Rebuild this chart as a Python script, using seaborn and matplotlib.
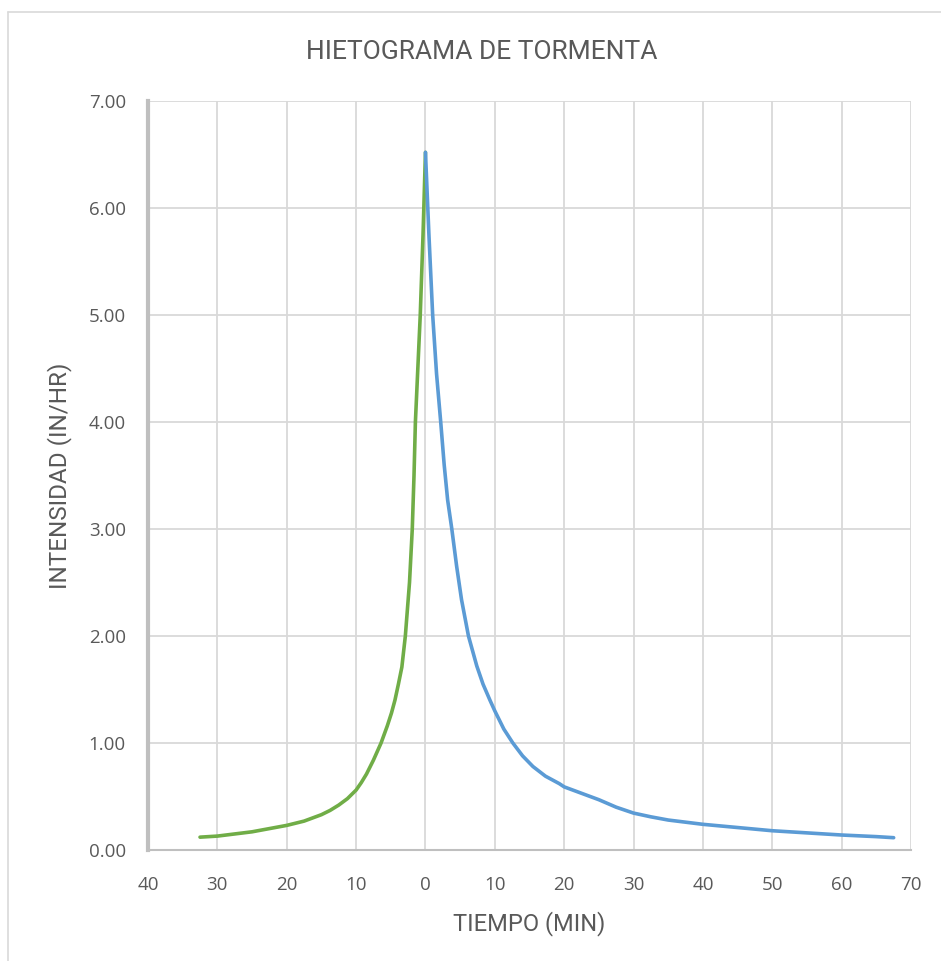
import matplotlib
matplotlib.use("Agg")
import matplotlib.pyplot as plt
import matplotlib.lines as mlines
from matplotlib.ticker import FixedLocator, FuncFormatter
import seaborn as sns
import pandas as pd

# Storm hyetograph: rising limb (before peak) and falling limb (after peak)
antes_tiempo = [-32.5, -30, -27.5, -25, -22.5, -20, -17.5, -15, -13.75, -12.5,
                -11.25, -10, -9.25, -8.5, -7.5, -6.4, -5.5, -4.9, -4.4, -3.9,
                -3.4, -2.9, -2.6, -2.3, -1.9, -1.65, -1.45, -1.1, -0.75, -0.35, 0]
antes_intensidad = [0.12, 0.13, 0.15, 0.17, 0.20, 0.23, 0.27, 0.33, 0.37, 0.42,
                    0.48, 0.56, 0.63, 0.71, 0.84, 1.00, 1.16, 1.28, 1.40, 1.55,
                    1.71, 2.00, 2.25, 2.50, 3.00, 3.50, 4.00, 4.50, 5.00, 5.75, 6.52]

despues_tiempo = [0, 0.5, 1.04, 1.6, 2.2, 2.7, 3.2, 3.8, 4.5, 5.2, 6.2, 7.4, 8.3,
                  9.3, 10, 11.3, 12.6, 14, 15.5, 17.3, 19.3, 20, 22.5, 25, 27.5,
                  30, 32.5, 35, 40, 45, 50, 55, 60, 65, 67.5]
despues_intensidad = [6.52, 5.75, 5.00, 4.45, 4.00, 3.60, 3.27, 3.00, 2.65, 2.34,
                      2.00, 1.72, 1.55, 1.40, 1.30, 1.13, 1.00, 0.88, 0.78, 0.69,
                      0.62, 0.59, 0.53, 0.47, 0.40, 0.345, 0.31, 0.28, 0.24, 0.21,
                      0.18, 0.16, 0.14, 0.125, 0.115]

x_ticks = list(range(-40, 71, 10))
y_ticks = [0, 1, 2, 3, 4, 5, 6, 7]

titulo = "HIETOGRAMA DE TORMENTA"
etiqueta_x = "TIEMPO (MIN)"
etiqueta_y = "INTENSIDAD (IN/HR)"

sns.set_theme(style="white")
plt.rcParams["font.family"] = ["Open Sans", "DejaVu Sans"]

TEXT = "#595959"
GRID = "#D9D9D9"
AXIS = "#BFBFBF"
GREEN = "#70AD47"
BLUE = "#5B9BD5"
NARROW = ["Roboto", "DejaVu Sans"]

fig = plt.figure(figsize=(9.41, 9.61), dpi=100)
ax = fig.add_axes([148 / 941, 1 - 850 / 961, (911 - 148) / 941, (850 - 101) / 961])

df_antes = pd.DataFrame({"t": antes_tiempo, "i": antes_intensidad})
df_despues = pd.DataFrame({"t": despues_tiempo, "i": despues_intensidad})

sns.lineplot(data=df_antes, x="t", y="i", ax=ax, color=GREEN, linewidth=2.6,
             sort=False, estimator=None, solid_capstyle="round",
             solid_joinstyle="round", zorder=3)
sns.lineplot(data=df_despues, x="t", y="i", ax=ax, color=BLUE, linewidth=2.6,
             sort=False, estimator=None, solid_capstyle="round",
             solid_joinstyle="round", zorder=4)

ax.set_xlim(-40, 70)
ax.set_ylim(0, 7)
ax.xaxis.set_major_locator(FixedLocator(x_ticks))
ax.yaxis.set_major_locator(FixedLocator(y_ticks))
ax.xaxis.set_major_formatter(FuncFormatter(lambda v, p: f"{abs(int(round(v)))}"))
ax.yaxis.set_major_formatter(FuncFormatter(lambda v, p: f"{v:.2f}"))

ax.grid(True, color=GRID, linewidth=1.3, zorder=0)
ax.set_axisbelow(True)
for side in ("top", "right"):
    ax.spines[side].set_visible(False)
ax.spines["left"].set_color(AXIS)
ax.spines["left"].set_linewidth(3.0)
ax.spines["bottom"].set_color(AXIS)
ax.spines["bottom"].set_linewidth(1.5)

ax.tick_params(axis="both", length=0, labelsize=13.5, labelcolor=TEXT)
ax.tick_params(axis="x", pad=19)
ax.tick_params(axis="y", pad=16)

ax.set_xlabel(etiqueta_x, fontsize=17, color=TEXT, family=NARROW, labelpad=12)
ax.set_ylabel(etiqueta_y, fontsize=17.5, color=TEXT, family=NARROW, labelpad=12)

fig.text(482 / 941, 1 - 52 / 961, titulo, ha="center", va="center",
         fontsize=19, color=TEXT, family=NARROW)

# chart area frame
fig.add_artist(mlines.Line2D([8 / 941, 1], [1 - 12 / 961] * 2,
                             transform=fig.transFigure, color=GRID, linewidth=1.2))
fig.add_artist(mlines.Line2D([8 / 941] * 2, [0, 1 - 12 / 961],
                             transform=fig.transFigure, color=GRID, linewidth=1.2))

fig.savefig("out.png", dpi=100, facecolor="white")
